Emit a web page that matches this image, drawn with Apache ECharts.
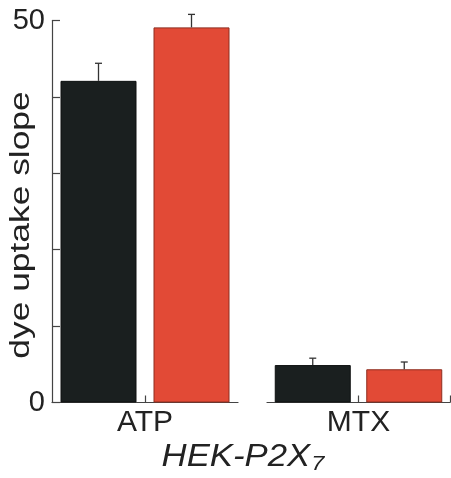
<!DOCTYPE html>
<html>
<head>
<meta charset="utf-8">
<script src="https://cdn.jsdelivr.net/npm/echarts@6/dist/echarts.min.js"></script>
<style>
  html, body { margin: 0; padding: 0; background: #fff; }
  #chart { width: 451px; height: 478px; }
</style>
</head>
<body>
<div id="chart"></div>
<script>
// Dye uptake slope in HEK-P2X7 cells, two conditions per stimulus
const groups = ['ATP', 'MTX'];
const conditions = ['control', 'treated'];
const atpValues = [42.1, 49.1];
const atpErrors = [2.3, 1.7];
const mtxValues = [4.9, 4.35];
const mtxErrors = [0.9, 0.95];
const yTicks = [0, 10, 20, 30, 40, 50];

const FONT = 'Liberation Sans, Arial, Helvetica, sans-serif';
const INK = '#222';
const AXIS = '#444';
const fills = ['#1a1f1f', '#e24a36'];
const borders = ['#0e1111', '#8e2c1f'];

// Each group axis has five slots: edge, condition, centre tick, condition, edge.
const SLOT_OF = [1, 3];
const slots = ['', conditions[0], '', conditions[1], ''];

function barData(values) {
  const out = slots.map(() => '-');
  values.forEach((v, i) => {
    out[SLOT_OF[i]] = {
      value: v,
      itemStyle: { color: fills[i], borderColor: borders[i], borderWidth: 1 }
    };
  });
  return out;
}

function errData(values, errors) {
  return values.map((v, i) => [SLOT_OF[i], v, v + errors[i]]);
}

function renderErr(params, api) {
  const base = api.coord([api.value(0), api.value(1)]);
  const top = api.coord([api.value(0), api.value(2)]);
  const cap = 3.5;
  const style = { stroke: '#333', lineWidth: 1.3 };
  return {
    type: 'group',
    children: [
      { type: 'line', shape: { x1: base[0], y1: base[1], x2: top[0], y2: top[1] }, style },
      { type: 'line', shape: { x1: top[0] - cap, y1: top[1], x2: top[0] + cap, y2: top[1] }, style }
    ]
  };
}

function xAxis(gridIndex, name, tickSlots) {
  return {
    type: 'category',
    gridIndex,
    data: slots,
    boundaryGap: false,
    name,
    nameLocation: 'middle',
    nameGap: 5,
    nameTextStyle: { fontFamily: FONT, fontSize: 30, color: INK, verticalAlign: 'top' },
    axisLine: { lineStyle: { color: AXIS, width: 1.2 } },
    axisTick: {
      show: true, inside: true, length: 7,
      interval: (i) => tickSlots.indexOf(i) >= 0,
      lineStyle: { color: AXIS, width: 1.2 }
    },
    axisLabel: { show: false },
    splitLine: { show: false }
  };
}

function yAxis(gridIndex, visible) {
  return {
    type: 'value',
    gridIndex,
    min: 0,
    max: 50,
    interval: 10,
    show: visible,
    axisLine: { show: true, lineStyle: { color: AXIS, width: 1.2 } },
    axisTick: { show: true, inside: true, length: 8, lineStyle: { color: AXIS, width: 1.2 } },
    axisLabel: {
      fontFamily: FONT, fontSize: 29, color: INK, margin: 7,
      formatter: v => (v === yTicks[0] || v === yTicks[yTicks.length - 1]) ? String(v) : ''
    },
    splitLine: { show: false }
  };
}

const chart = echarts.init(document.getElementById('chart'), null, { renderer: 'canvas' });
chart.setOption({
  animation: false,
  backgroundColor: '#fff',
  grid: [
    { left: 52, top: 20.5, width: 186, height: 382, containLabel: false, outerBoundsMode: 'none' },
    { left: 267, top: 20.5, width: 183, height: 382, containLabel: false, outerBoundsMode: 'none' }
  ],
  xAxis: [xAxis(0, groups[0], [2]), xAxis(1, groups[1], [2, 4])],
  yAxis: [yAxis(0, true), yAxis(1, false)],
  series: [
    { type: 'bar', xAxisIndex: 0, yAxisIndex: 0, barWidth: 76, data: barData(atpValues) },
    { type: 'bar', xAxisIndex: 1, yAxisIndex: 1, barWidth: 76, data: barData(mtxValues) },
    { type: 'custom', xAxisIndex: 0, yAxisIndex: 0, renderItem: renderErr, data: errData(atpValues, atpErrors), z: 3 },
    { type: 'custom', xAxisIndex: 1, yAxisIndex: 1, renderItem: renderErr, data: errData(mtxValues, mtxErrors), z: 3 }
  ],
  graphic: [
    {
      // y-axis title, set in a wide face
      type: 'text',
      x: 22,
      y: 225,
      rotation: Math.PI / 2,
      scaleX: 1.31,
      style: {
        text: 'dye uptake slope',
        fontFamily: FONT, fontSize: 27, fill: INK,
        align: 'center', verticalAlign: 'middle'
      }
    },
    {
      // cell line caption with subscript
      type: 'text',
      x: 243,
      y: 439,
      scaleX: 1.12,
      style: {
        text: '{m|HEK-P2X}{s|7}',
        align: 'center',
        verticalAlign: 'top',
        rich: {
          m: { fontFamily: FONT, fontSize: 31, fontStyle: 'italic', fill: INK },
          s: { fontFamily: FONT, fontSize: 21, fontStyle: 'italic', fill: INK, padding: [15, 0, 0, 1] }
        }
      }
    }
  ]
});
</script>
</body>
</html>
